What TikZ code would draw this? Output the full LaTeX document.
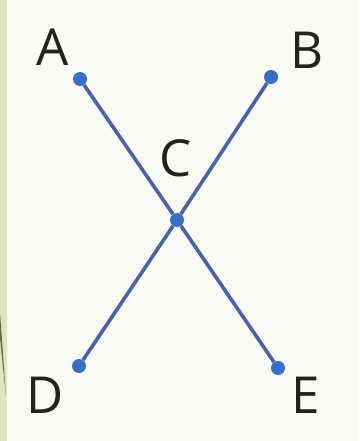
\documentclass[tikz,border=0pt]{standalone}
\usepackage{fontspec}
\setmainfont{Open Sans}
\definecolor{paper}{HTML}{F8FBF4}
\definecolor{strip}{HTML}{DDE4C4}
\definecolor{olive}{HTML}{6E6448}
\definecolor{segblue}{HTML}{4C62A6}
\definecolor{dotblue}{HTML}{3A6EC4}
\definecolor{ink}{HTML}{222222}
\begin{document}
\begin{tikzpicture}[x=1pt, y=-1pt,
        dot/.style={circle, fill=dotblue, inner sep=0pt, minimum size=14pt},
        seg/.style={draw=segblue, line width=3.6pt},
        lbl/.style={text=ink, inner sep=0pt, font=\fontsize{51}{51}\selectfont}]
        % page and left edge of the slide
        \fill[paper] (0,0) rectangle (359,441);
        \useasboundingbox (0,0) rectangle (359,441);
        \fill[strip] (0,0) rectangle (7,441);
        \fill[olive] (0,312) -- (6,397) -- (0,338) -- cycle;

        \node[dot] (A) at (80,79) {};
        \node[dot] (B) at (271,77) {};
        \node[dot] (C) at (177,220) {};
        \node[dot] (D) at (79,366) {};
        \node[dot] (E) at (278,368) {};
        \draw[seg] (A) -- (C) -- (E);
        \draw[seg] (B) -- (C) -- (D);

        \node[lbl] (lA) at (53,47) {A};
        \node[lbl] (lB) at (307,50) {B};
        \node[lbl] (lC) at (176,158) {C};
        \node[lbl] (lD) at (45,395) {D};
        \node[lbl] (lE) at (306,395) {E};
    \end{tikzpicture}
\end{document}
